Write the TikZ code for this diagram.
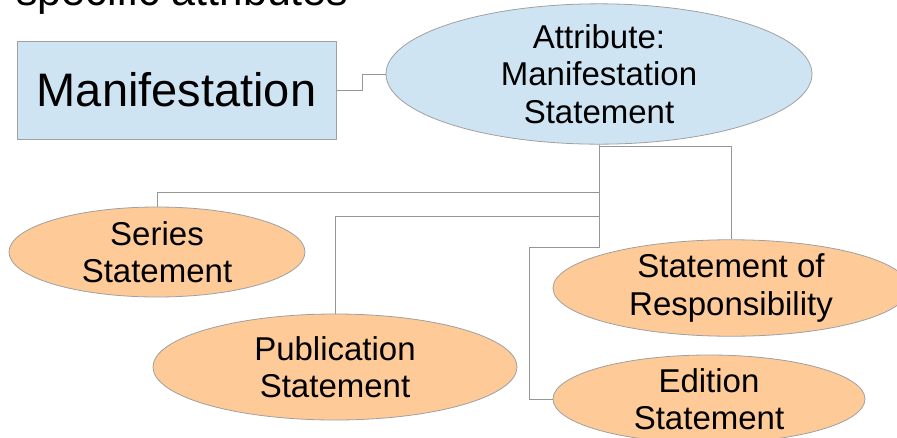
\documentclass[tikz,border=0pt]{standalone}
\usepackage{fontspec}
\setmainfont{Liberation Sans}
\usetikzlibrary{shapes.geometric}
\definecolor{lblue}{RGB}{207,228,243}
\definecolor{lorange}{RGB}{253,202,152}
\definecolor{edgegray}{RGB}{160,160,160}
\definecolor{linegray}{RGB}{150,150,150}
\begin{document}
\begin{tikzpicture}[x=1pt,y=-1pt,
  oval/.style={ellipse,draw=edgegray,line width=0.8pt,inner sep=0pt,align=center,
     font=\fontsize{33}{37.5}\selectfont},
  attrov/.style={oval,fill=lblue},
  subov/.style={oval,fill=lorange},
  conn/.style={draw=linegray,line width=1pt}]
\useasboundingbox (0,0) rectangle (897,437);
\begin{scope}
\clip (0,0) rectangle (897,437);
\node[anchor=base west,inner sep=0pt,font=\fontsize{43}{48}\selectfont] (title) at (16,5) {specific attributes};
\node[draw=edgegray,line width=0.8pt,fill=lblue,minimum width=319pt,minimum height=98pt,inner sep=0pt,
  font=\fontsize{47}{52}\selectfont] (man) at (176.5,90) {Manifestation};
\node[attrov,minimum width=426pt,minimum height=127pt] (attr) at (599,74) {Attribute:\\Manifestation\\Statement};
\node[subov,minimum width=296pt,minimum height=90pt] (series) at (157,252) {Series\\Statement};
\node[subov,minimum width=364pt,minimum height=106pt] (pub) at (335,367) {Publication\\Statement};
\node[subov,minimum width=356pt,minimum height=90pt] (resp) at (731,288) {Statement of\\Responsibility};
\node[subov,minimum width=312pt,minimum height=88pt] (ed) at (709,399) {Edition\\Statement};
\coordinate (m1) at (362,90);
\coordinate (j1) at (599,192);
\coordinate (j2) at (599,216);
\coordinate (j3) at (599,146);
\coordinate (k) at (529,247);
\draw[conn] (man.east) -- (m1) |- (attr.west);
\draw[conn] (attr.south) -- (j1) -| (series.north);
\draw[conn] (attr.south) -- (j2) -| (pub.north);
\draw[conn] (attr.south) -- (j3) -| (resp.north);
\draw[conn] (attr.south) |- (k) |- (ed.west);
\end{scope}
\end{tikzpicture}
\end{document}
